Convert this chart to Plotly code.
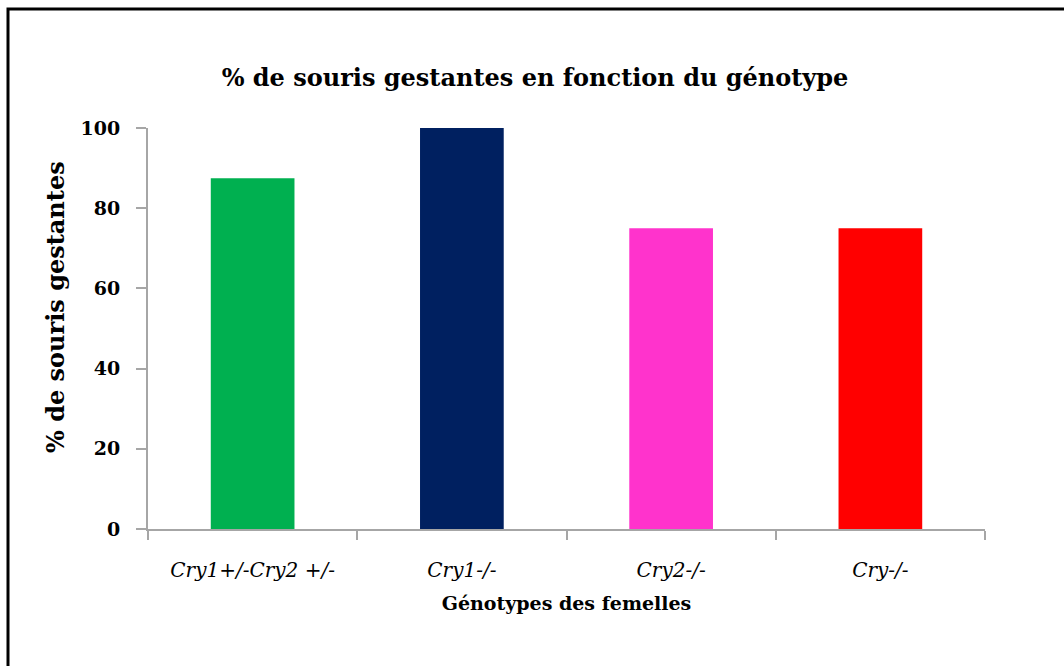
import plotly.graph_objects as go

# Data
genotypes = ["Cry1+/-Cry2 +/-", "Cry1-/-", "Cry2-/-", "Cry-/-"]
pct_gestantes = [87.5, 100, 75, 75]
bar_colors = ["#00b050", "#002060", "#ff33cc", "#ff0000"]
y_ticks = [0, 20, 40, 60, 80, 100]

W, H = 1064, 666
L, R, T, B = 148, 79, 128, 137
pw, ph = W - L - R, H - T - B

def px_x(px):
    return (px - L) / pw

def px_y(py):
    return (H - B - py) / ph

serif = "DejaVu Serif, Liberation Serif, serif"
axis_grey = "#a6a6a6"

fig = go.Figure(
    go.Bar(
        x=genotypes,
        y=pct_gestantes,
        marker=dict(color=bar_colors, line=dict(width=0)),
        width=0.4,
        hoverinfo="x+y",
    )
)

fig.update_layout(
    width=W,
    height=H,
    margin=dict(l=L, r=R, t=T, b=B),
    paper_bgcolor="white",
    plot_bgcolor="white",
    showlegend=False,
    title=dict(
        text="<b>% de souris gestantes en fonction du génotype</b>",
        x=535 / W,
        xanchor="center",
        y=1 - 78 / H,
        yanchor="middle",
        font=dict(family=serif, size=24, color="black"),
    ),
    font=dict(family=serif, color="black"),
)

fig.update_xaxes(
    type="category",
    range=[-0.5, 3.5],
    showline=True,
    linecolor=axis_grey,
    linewidth=2,
    ticks="outside",
    tickson="boundaries",
    ticklen=9,
    tickwidth=2,
    tickcolor=axis_grey,
    tickfont=dict(family=serif, size=20, color="black", style="italic"),
    ticklabelstandoff=22,
    showgrid=False,
    title=dict(
        text="<b>Génotypes des femelles</b>",
        font=dict(family=serif, size=19, color="black"),
        standoff=16,
    ),
)

fig.update_yaxes(
    range=[0, 100],
    tickvals=y_ticks,
    showline=True,
    linecolor=axis_grey,
    linewidth=2,
    ticks="outside",
    ticklen=10,
    tickwidth=2,
    tickcolor=axis_grey,
    tickfont=dict(family=serif, size=19, color="black", weight="bold"),
    ticklabelstandoff=12,
    showgrid=False,
    zeroline=False,
)

# Y-axis title, placed as a rotated annotation
fig.add_annotation(
    text="<b>% de souris gestantes</b>",
    xref="paper",
    yref="paper",
    x=px_x(55),
    y=px_y(307),
    xanchor="center",
    yanchor="middle",
    textangle=-90,
    showarrow=False,
    font=dict(family=serif, size=24, color="black"),
)

# Outer frame (left and top edges)
fig.add_shape(
    type="path",
    xref="paper",
    yref="paper",
    path=f"M {px_x(8)} {px_y(H + 10)} L {px_x(8)} {px_y(9)} L {px_x(W + 10)} {px_y(9)}",
    line=dict(color="black", width=3),
)

fig.write_html("out.html")
